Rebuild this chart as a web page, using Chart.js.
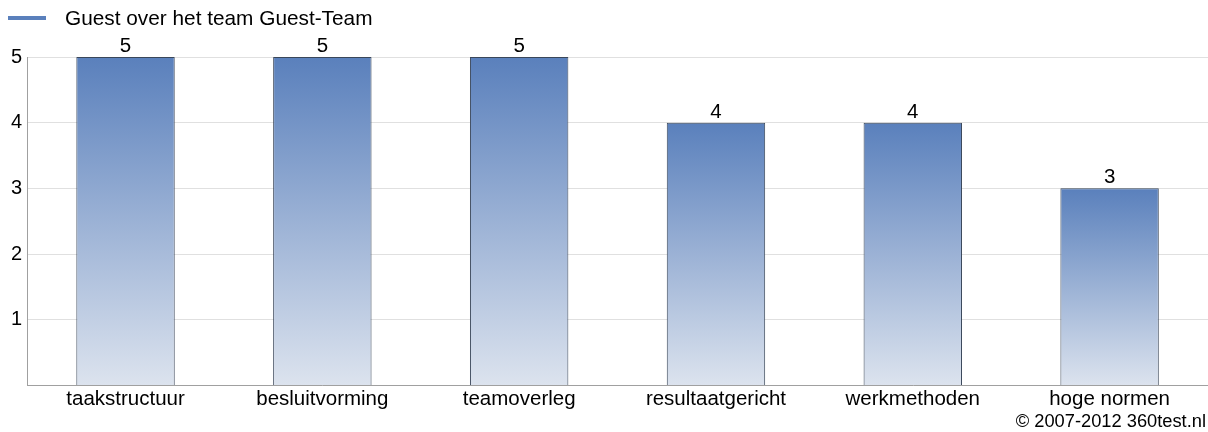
<!DOCTYPE html>
<html>
<head>
<meta charset="utf-8">
<script src="https://cdn.jsdelivr.net/npm/chart.js@4"></script>
<style>
  html, body { margin: 0; padding: 0; background: #fff; }
  #wrap { width: 1208px; height: 432px; }
</style>
</head>
<body>
<div id="wrap"><canvas id="grafiek"></canvas></div>
<script>
// gegevens uit de grafiek
const categorieen = ["taakstructuur", "besluitvorming", "teamoverleg", "resultaatgericht", "werkmethoden", "hoge normen"];
const scores = [5, 5, 5, 4, 4, 3];
const reeksNaam = "Guest over het team Guest-Team";
const yTicks = [1, 2, 3, 4, 5];
const copyright = "\u00a9 2007-2012 360test.nl";

const FONT = "'Liberation Sans', Arial, sans-serif";
const BLAUW = "#5a80bc";
const LICHT = "#dce3ee";

// verloop per balk, van bovenkant balk naar de nullijn
function balkKleur(context) {
    const chart = context.chart;
    if (!chart.chartArea || context.type !== "data") return BLAUW;
    const y = chart.scales.y;
    const boven = y.getPixelForValue(context.raw);
    const onder = y.getPixelForValue(0);
    const g = chart.ctx.createLinearGradient(0, boven, 0, onder);
    g.addColorStop(0, BLAUW);
    g.addColorStop(1, LICHT);
    return g;
}

// legenda, waardes boven de balken en copyright
const extraTekst = {
    id: "extraTekst",
    afterDatasetsDraw(chart) {
        const ctx = chart.ctx;
        ctx.save();
        ctx.fillStyle = "#000";
        ctx.font = "20.5px " + FONT;
        ctx.textAlign = "center";
        ctx.textBaseline = "alphabetic";
        chart.getDatasetMeta(0).data.forEach((bar, i) => {
            ctx.fillText(String(scores[i]), bar.x, bar.y - 5);
        });

        // legenda
        ctx.strokeStyle = BLAUW;
        ctx.lineWidth = 4;
        ctx.beginPath();
        ctx.moveTo(8, 18);
        ctx.lineTo(46, 18);
        ctx.stroke();
        ctx.font = "20.8px " + FONT;
        ctx.textAlign = "left";
        ctx.fillText(reeksNaam, 65, 25);

        // copyright
        ctx.font = "18.3px " + FONT;
        ctx.textAlign = "right";
        ctx.fillText(copyright, 1206, 427);
        ctx.restore();
    }
};

window.onload = () => {
    const ctx = document.getElementById("grafiek").getContext("2d");
    new Chart(ctx, {
        type: "bar",
        data: {
            labels: categorieen,
            datasets: [{
                label: reeksNaam,
                data: scores,
                backgroundColor: balkKleur,
                borderColor: "#3a475a",
                borderWidth: 1,
                barPercentage: 0.5,
                categoryPercentage: 1
            }]
        },
        options: {
            responsive: true,
            maintainAspectRatio: false,
            animation: false,
            layout: { padding: { top: 57, left: 6, right: 0, bottom: 18 } },
            plugins: {
                legend: { display: false },
                tooltip: { enabled: false }
            },
            scales: {
                x: {
                    grid: { display: false, drawTicks: false },
                    border: { display: true, color: "#a0a0a0", width: 1 },
                    ticks: { color: "#000", font: { family: FONT, size: 20.5 }, padding: 2, maxRotation: 0 }
                },
                y: {
                    min: 0,
                    max: 5,
                    afterBuildTicks: (as) => { as.ticks = [0].concat(yTicks).map(v => ({ value: v })); },
                    grid: { color: "#e0e0e0", drawTicks: false },
                    border: { display: true, color: "#a0a0a0", width: 1 },
                    ticks: {
                        color: "#000",
                        font: { family: FONT, size: 20 },
                        padding: 5,
                        callback: (v) => v === 0 ? "" : String(v)
                    }
                }
            }
        },
        plugins: [extraTekst]
    });
};
</script>
</body>
</html>
